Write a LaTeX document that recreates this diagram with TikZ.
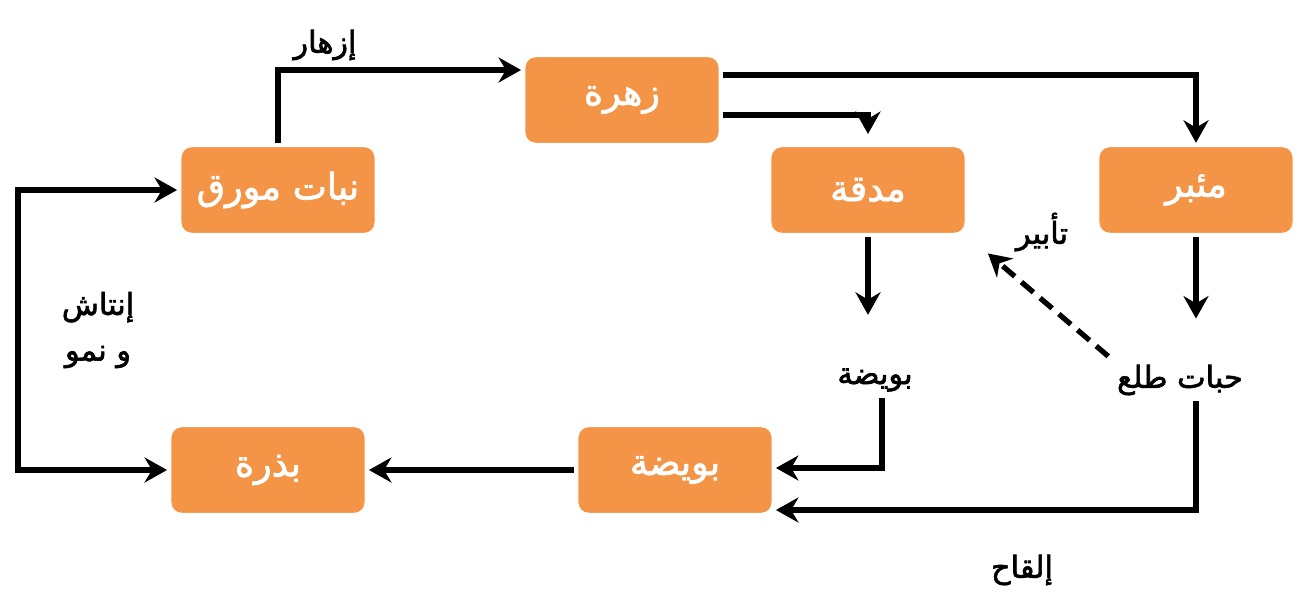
\documentclass[tikz,border=0pt]{standalone}
\usepackage{fontspec}
\usepackage{tikz}
\usetikzlibrary{arrows.meta,shadows}
\TeXXeTstate=1
\newfontfamily\arabicfont[Script=Arabic,FakeBold=2]{DejaVu Sans}
\newcommand{\ar}[1]{\arabicfont\beginR #1\endR}
\definecolor{boxorange}{RGB}{244,148,70}

\begin{document}
\begin{tikzpicture}[x=0.02cm,y=-0.02cm,
                    >={Stealth[length=4.5mm,width=5mm]},
                    box/.style={rectangle,rounded corners=7pt,fill=boxorange,
                                draw=white,line width=2.5pt,
                                minimum width=3.95cm,minimum height=1.8cm,
                                text=white,font=\huge,
                                drop shadow={opacity=0.25,shadow xshift=0.6pt,shadow yshift=-0.6pt}},
                    lbl/.style={font=\LARGE,text=black},
                    arr/.style={->,line width=3pt}]

        \useasboundingbox (0,0) rectangle (1309,606);

        \node[box]  (flower)  at (622,100)  {\ar{زهرة}};
        \node[box]  (leafy)   at (278,190)  {\ar{نبات مورق}};
        \node[box]  (pistil)  at (868,190)  {\ar{مدقة}};
        \node[box]  (anther)  at (1196,190) {\ar{مئبر}};
        \node[box]  (seed)    at (268,470)  {\ar{بذرة}};
        \node[box]  (egg)     at (675,470)  {\ar{بويضة}};

        \node[lbl]  (ovule)   at (875,380)  {\ar{بويضة}};
        \node[lbl]  (pollen)  at (1180,380) {\ar{حبات طلع}};

        \node[lbl]  (bloom)   at (325,45)   {\ar{إزهار}};
        \node[lbl]  (pollin)  at (1042,232) {\ar{تأبير}};
        \node[lbl]  (fert)    at (1022,570) {\ar{إلقاح}};
        \node[lbl,align=center] (germ) at (98,330)
              {\ar{إنتاش}\\[4pt]\ar{و نمو}};

        \coordinate (lc) at (18,320);

        \draw[arr] (leafy.north) |- (flower.west |- 0,70);
        \draw[arr] (flower.east |- 0,75) -| (anther.north);
        \draw[arr] (flower.east |- 0,115) -| ([yshift=5pt]pistil.north);
        \draw[arr,shorten >=0.95cm] (pistil.south) -- (pistil.south |- ovule.north);
        \draw[arr,shorten >=0.8cm] (anther.south) -- (anther.south |- pollen.north);
        \draw[arr,dash pattern=on 9pt off 5pt,shorten <=2pt,shorten >=0.5cm]
              (pollen.north west) -- (pistil.south east);
        \draw[arr] ([xshift=4pt]ovule.south) |- (egg.east |- 0,468);
        \draw[arr] (pollen.south -| anther.south) |- (egg.east |- 0,510);
        \draw[arr] (egg.west) -- (seed.east);
        \draw[<->,line width=3pt] (seed.west) -| (lc) |- (leafy.west);

        \end{tikzpicture}
\end{document}
